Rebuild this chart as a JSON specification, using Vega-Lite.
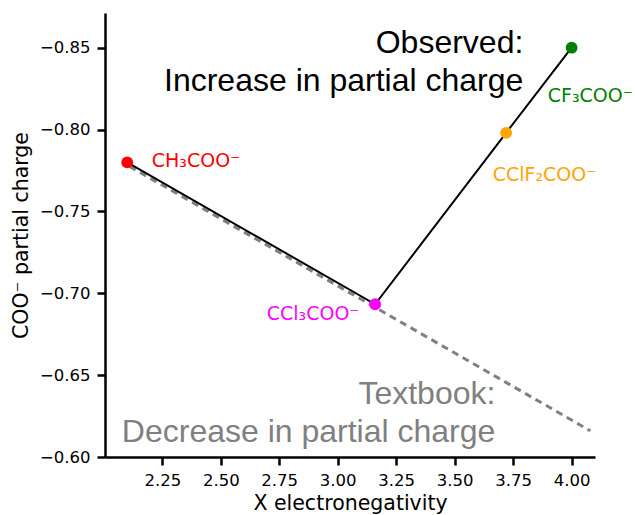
{
  "$schema": "https://vega.github.io/schema/vega-lite/v6.json",
  "width": 490,
  "height": 444,
  "autosize": {"type": "none"},
  "padding": {"left": 105, "top": 13, "right": 40, "bottom": 58},
  "background": "white",
  "config": {
    "view": {"stroke": null},
    "axis": {
      "grid": false,
      "domainColor": "black",
      "domainWidth": 2.5,
      "tickColor": "black",
      "tickWidth": 2.5,
      "tickSize": 8,
      "labelFont": "DejaVu Sans",
      "labelFontSize": 16.5,
      "labelColor": "black",
      "labelPadding": 7,
      "titleFont": "DejaVu Sans",
      "titleFontSize": 20.5,
      "titleFontWeight": "normal",
      "titleColor": "black"
    }
  },
  "datasets": {
    "points": [
      {"x": 2.10, "y": -0.780, "compound": "CH3"},
      {"x": 3.16, "y": -0.6933, "compound": "CCl3"},
      {"x": 3.72, "y": -0.798, "compound": "CClF2"},
      {"x": 4.00, "y": -0.850, "compound": "CF3"}
    ],
    "textbook": [
      {"x": 2.11, "y": -0.7775},
      {"x": 4.08, "y": -0.6160}
    ],
    "labels": [
      {"x": 2.205, "y": -0.7771, "text": "CH₃COO⁻", "compound": "CH3"},
      {"x": 2.6965, "y": -0.6837, "text": "CCl₃COO⁻", "compound": "CCl3"},
      {"x": 3.6627, "y": -0.7684, "text": "CClF₂COO⁻", "compound": "CClF2"},
      {"x": 3.898, "y": -0.817, "text": "CF₃COO⁻", "compound": "CF3"}
    ],
    "notes": [
      {"x": 3.7935, "y": -0.8466, "text": "Observed:", "kind": "observed"},
      {"x": 3.7935, "y": -0.8237, "text": "Increase in partial charge", "kind": "observed"},
      {"x": 3.674, "y": -0.6322, "text": "Textbook:", "kind": "textbook"},
      {"x": 3.674, "y": -0.6092, "text": "Decrease in partial charge", "kind": "textbook"}
    ]
  },
  "encoding": {
    "x": {
      "field": "x",
      "type": "quantitative",
      "scale": {"domain": [2.005, 4.1], "nice": false, "zero": false},
      "axis": {
        "title": "X electronegativity",
        "values": [2.25, 2.5, 2.75, 3.0, 3.25, 3.5, 3.75, 4.0],
        "format": ".2f",
        "titlePadding": 5
      }
    },
    "y": {
      "field": "y",
      "type": "quantitative",
      "scale": {"domain": [-0.8712, -0.6], "reverse": true, "nice": false, "zero": false},
      "axis": {
        "title": "COO⁻ partial charge",
        "values": [-0.85, -0.8, -0.75, -0.7, -0.65, -0.6],
        "format": ".2f",
        "titlePadding": 8
      }
    }
  },
  "layer": [
    {
      "data": {"name": "textbook"},
      "mark": {"type": "line", "color": "#808080", "strokeWidth": 3, "strokeDash": [7, 5]}
    },
    {
      "data": {"name": "points"},
      "mark": {"type": "line", "color": "black", "strokeWidth": 2}
    },
    {
      "data": {"name": "points"},
      "mark": {"type": "circle", "size": 140, "opacity": 1},
      "encoding": {
        "color": {
          "field": "compound",
          "type": "nominal",
          "scale": {"domain": ["CH3", "CCl3", "CClF2", "CF3"], "range": ["#ff0000", "#ff00ff", "#ffa500", "#008000"]},
          "legend": null
        }
      }
    },
    {
      "data": {"name": "labels"},
      "mark": {"type": "text", "align": "left", "baseline": "alphabetic", "font": "DejaVu Sans", "fontSize": 19},
      "encoding": {
        "text": {"field": "text"},
        "color": {
          "field": "compound",
          "type": "nominal",
          "scale": {"domain": ["CH3", "CCl3", "CClF2", "CF3"], "range": ["#ff0000", "#ff00ff", "#ffa500", "#008000"]},
          "legend": null
        }
      }
    },
    {
      "data": {"name": "notes"},
      "transform": [{"filter": "datum.kind == 'observed'"}],
      "mark": {"type": "text", "align": "right", "baseline": "alphabetic", "font": "Liberation Sans", "fontSize": 32, "color": "black"},
      "encoding": {"text": {"field": "text"}}
    },
    {
      "data": {"name": "notes"},
      "transform": [{"filter": "datum.kind == 'textbook'"}],
      "mark": {"type": "text", "align": "right", "baseline": "alphabetic", "font": "Liberation Sans", "fontSize": 32, "color": "#808080"},
      "encoding": {"text": {"field": "text"}}
    }
  ]
}
